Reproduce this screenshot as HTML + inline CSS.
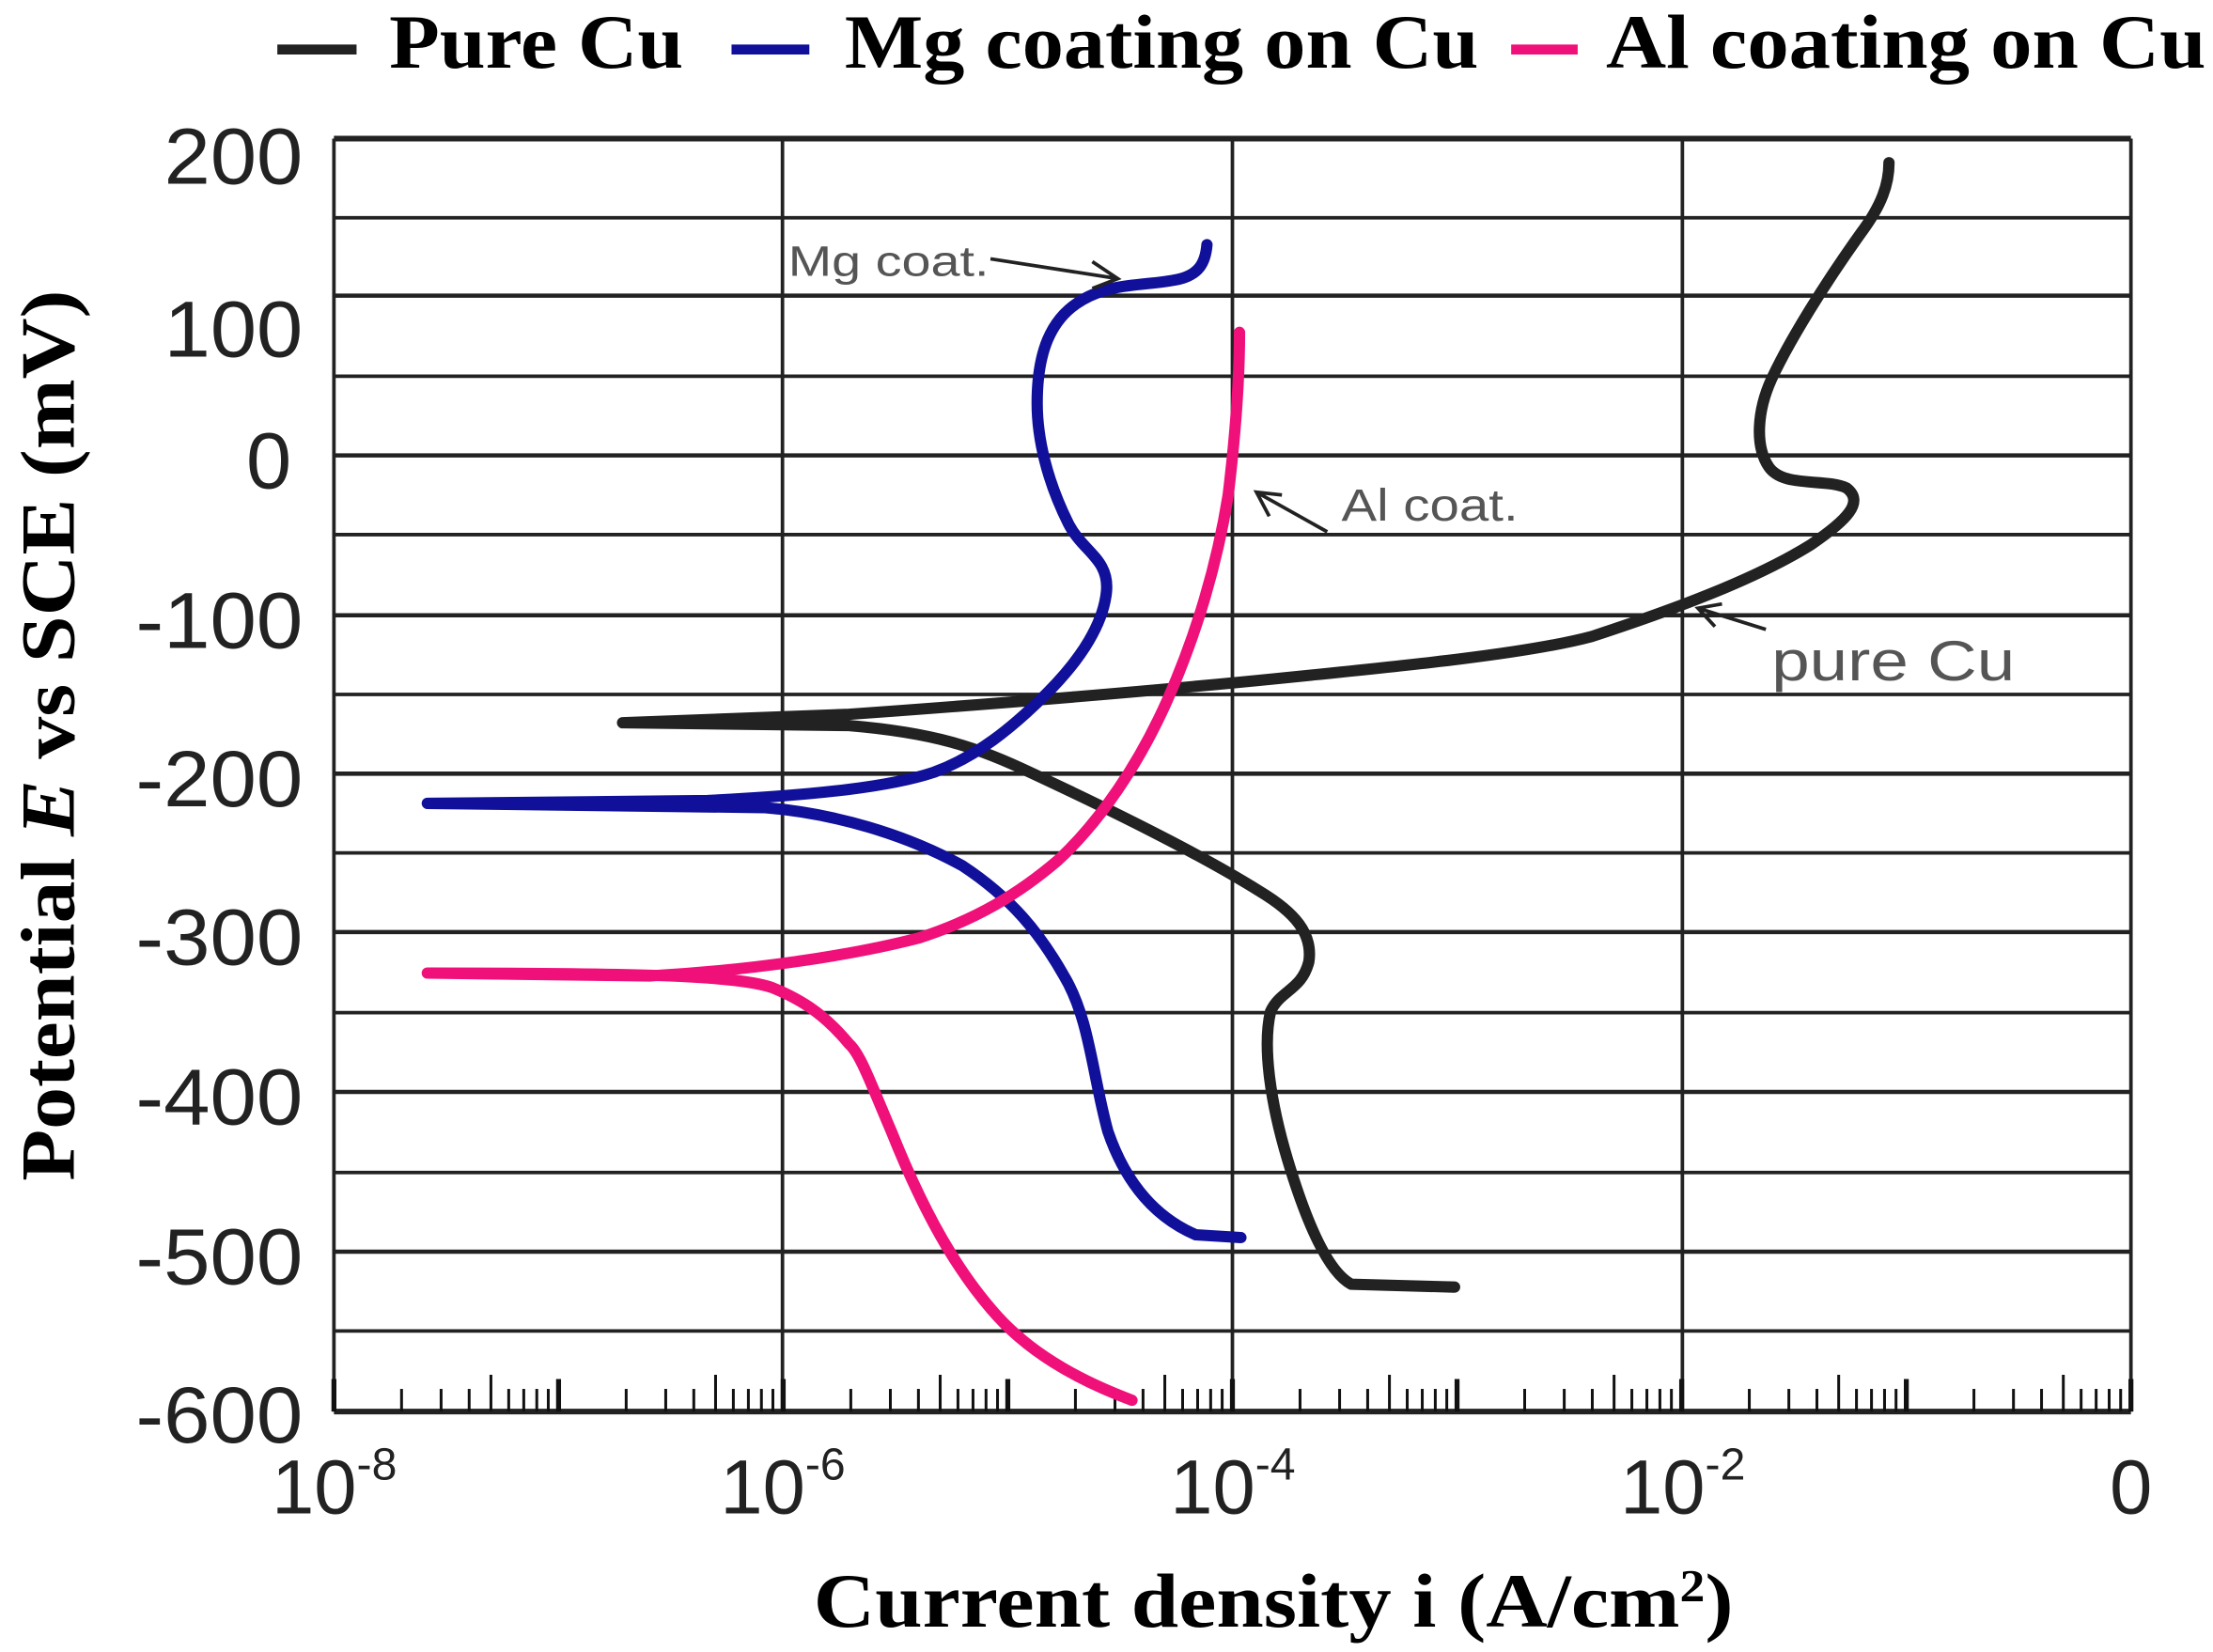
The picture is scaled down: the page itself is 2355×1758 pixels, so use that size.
<!DOCTYPE html>
<html><head><meta charset="utf-8"><style>html,body{margin:0;padding:0;background:#fff}svg{display:block}</style></head>
<body>
<svg width="2355" height="1758" viewBox="0 0 1564 1168" preserveAspectRatio="none" xmlns="http://www.w3.org/2000/svg">
<rect width="1564" height="1168" fill="#fff"/>
<!-- legend -->
<g font-family="Liberation Serif, serif" font-weight="bold" font-size="54" fill="#000">
<line x1="196" y1="35" x2="252" y2="35" stroke="#222" stroke-width="7"/>
<text x="275" y="48" textLength="208" lengthAdjust="spacingAndGlyphs">Pure Cu</text>
<line x1="517" y1="35" x2="572" y2="35" stroke="#10109a" stroke-width="7"/>
<text x="597" y="48" textLength="448" lengthAdjust="spacingAndGlyphs">Mg coating on Cu</text>
<line x1="1068" y1="35" x2="1115" y2="35" stroke="#f0107a" stroke-width="7"/>
<text x="1135" y="48" textLength="424" lengthAdjust="spacingAndGlyphs">Al coating on Cu</text>
</g>
<!-- grid -->
<g stroke="#222" stroke-width="2.5">
<line x1="236" y1="98" x2="1506" y2="98" stroke-width="4"/>
<line x1="236" y1="154" x2="1506" y2="154"/>
<line x1="236" y1="209" x2="1506" y2="209" stroke-width="3"/>
<line x1="236" y1="266" x2="1506" y2="266"/>
<line x1="236" y1="322" x2="1506" y2="322" stroke-width="3"/>
<line x1="236" y1="378" x2="1506" y2="378"/>
<line x1="236" y1="435" x2="1506" y2="435" stroke-width="3"/>
<line x1="236" y1="491" x2="1506" y2="491"/>
<line x1="236" y1="547" x2="1506" y2="547" stroke-width="3"/>
<line x1="236" y1="603" x2="1506" y2="603"/>
<line x1="236" y1="659" x2="1506" y2="659" stroke-width="3"/>
<line x1="236" y1="716" x2="1506" y2="716"/>
<line x1="236" y1="772" x2="1506" y2="772" stroke-width="3"/>
<line x1="236" y1="829" x2="1506" y2="829"/>
<line x1="236" y1="885" x2="1506" y2="885" stroke-width="3"/>
<line x1="236" y1="941" x2="1506" y2="941"/>
<line x1="236" y1="998" x2="1506" y2="998" stroke-width="4"/>
<line x1="236" y1="98" x2="236" y2="998"/>
<line x1="553" y1="98" x2="553" y2="998"/>
<line x1="871" y1="98" x2="871" y2="998"/>
<line x1="1189" y1="98" x2="1189" y2="998"/>
<line x1="1506" y1="98" x2="1506" y2="998"/>
</g>
<g id="ticks" stroke="#111" stroke-width="2"></g>
<!-- curves -->
<g fill="none" stroke-width="8" stroke-linecap="round" stroke-linejoin="round">
<path stroke="#222" d="M1028,910 L955,908 C940,900 925,870 910,820 C898,780 892,740 898,715 C905,700 920,700 925,680 C928,660 915,645 890,630 C850,605 790,575 730,547 C690,528 660,518 600,513 L440,511 L600,505 C700,498 820,488 900,480 C1000,470 1080,462 1125,450 C1180,432 1240,410 1280,385 C1305,368 1318,355 1305,345 C1290,338 1260,345 1250,330 C1240,315 1242,290 1252,268 C1265,240 1290,200 1315,165 C1330,145 1335,130 1335,115"/>
<path stroke="#10109a" d="M877,875 L845,873 C815,860 795,835 783,800 C772,760 770,720 752,690 C735,660 715,635 680,612 C640,590 590,575 540,571 L302,568 L500,566 C580,562 630,556 660,546 C690,535 715,515 740,490 C765,465 780,440 782,418 C784,395 765,390 755,370 C740,340 733,310 733,285 C733,250 742,225 765,212 C785,200 810,202 830,198 C848,195 852,185 853,173"/>
<path stroke="#f0107a" d="M800,990 C760,975 725,955 700,925 C670,890 648,845 630,800 C615,765 608,745 600,738 C585,720 570,708 545,698 C520,690 460,688 302,688 L460,690 C530,686 600,676 650,663 C690,650 720,632 748,608 C778,580 805,540 825,495 C845,450 860,400 868,350 C874,300 876,265 876,235"/>
</g>
<!-- annotations -->
<g font-family="Liberation Sans, sans-serif" fill="#555">
<text x="557" y="195" font-size="30" textLength="142" lengthAdjust="spacingAndGlyphs">Mg coat.</text>
<text x="948" y="368" font-size="32" textLength="125" lengthAdjust="spacingAndGlyphs">Al coat.</text>
<text x="1252" y="481" font-size="40" textLength="172" lengthAdjust="spacingAndGlyphs">pure Cu</text>
</g>
<g stroke="#222" stroke-width="2.5" fill="none">
<path d="M700,183 L790,197 M772,185 L790,197 L772,204"/>
<path d="M938,376 L888,348 M897,365 L888,348 L906,350"/>
<path d="M1248,445 L1200,430 M1212,443 L1200,430 L1217,427"/>
</g>
<!-- y labels -->
<g font-family="Liberation Sans, sans-serif" font-size="56" fill="#222" text-anchor="end">
<text x="214" y="130" textLength="98" lengthAdjust="spacingAndGlyphs">200</text>
<text x="214" y="252" textLength="98" lengthAdjust="spacingAndGlyphs">100</text>
<text x="206" y="345" textLength="32" lengthAdjust="spacingAndGlyphs">0</text>
<text x="214" y="458" textLength="118" lengthAdjust="spacingAndGlyphs">-100</text>
<text x="214" y="570" textLength="118" lengthAdjust="spacingAndGlyphs">-200</text>
<text x="214" y="682" textLength="118" lengthAdjust="spacingAndGlyphs">-300</text>
<text x="214" y="795" textLength="118" lengthAdjust="spacingAndGlyphs">-400</text>
<text x="214" y="908" textLength="118" lengthAdjust="spacingAndGlyphs">-500</text>
<text x="214" y="1020" textLength="118" lengthAdjust="spacingAndGlyphs">-600</text>
</g>
<g font-family="Liberation Sans, sans-serif" font-size="54" fill="#222">
<text x="192" y="1070">10<tspan font-size="32" dy="-24">-8</tspan></text>
<text x="509" y="1070">10<tspan font-size="32" dy="-24">-6</tspan></text>
<text x="827" y="1070">10<tspan font-size="32" dy="-24">-4</tspan></text>
<text x="1145" y="1070">10<tspan font-size="32" dy="-24">-2</tspan></text>
<text x="1491" y="1070">0</text>
</g>
<text x="900" y="1150" text-anchor="middle" font-family="Liberation Serif, serif" font-weight="bold" font-size="54" textLength="650" lengthAdjust="spacingAndGlyphs">Current density i  (A/cm<tspan font-size="32" dy="-18">2</tspan><tspan dy="18">)</tspan></text>
<text transform="translate(52,520) rotate(-90)" text-anchor="middle" font-family="Liberation Serif, serif" font-weight="bold" font-size="54" textLength="630" lengthAdjust="spacingAndGlyphs">Potential  <tspan font-style="italic">E</tspan> vs SCE (mV)</text>
<script>
(function(){var g=document.getElementById('ticks'),ns='http://www.w3.org/2000/svg';
for(var d=0;d<8;d++){var x0=236+d*158.75;
for(var k=1;k<10;k++){var x=x0+Math.log10(k)*158.75;var l=document.createElementNS(ns,'line');
l.setAttribute('x1',x);l.setAttribute('x2',x);l.setAttribute('y1',k==1?975:(k==5?972:982));l.setAttribute('y2',998);
if(k==1)l.setAttribute('stroke-width','3.5');g.appendChild(l);}}
var l=document.createElementNS(ns,'line');l.setAttribute('x1',1506);l.setAttribute('x2',1506);l.setAttribute('y1',975);l.setAttribute('y2',998);l.setAttribute('stroke-width','3.5');g.appendChild(l);})();
</script>
</svg>
</body></html>
